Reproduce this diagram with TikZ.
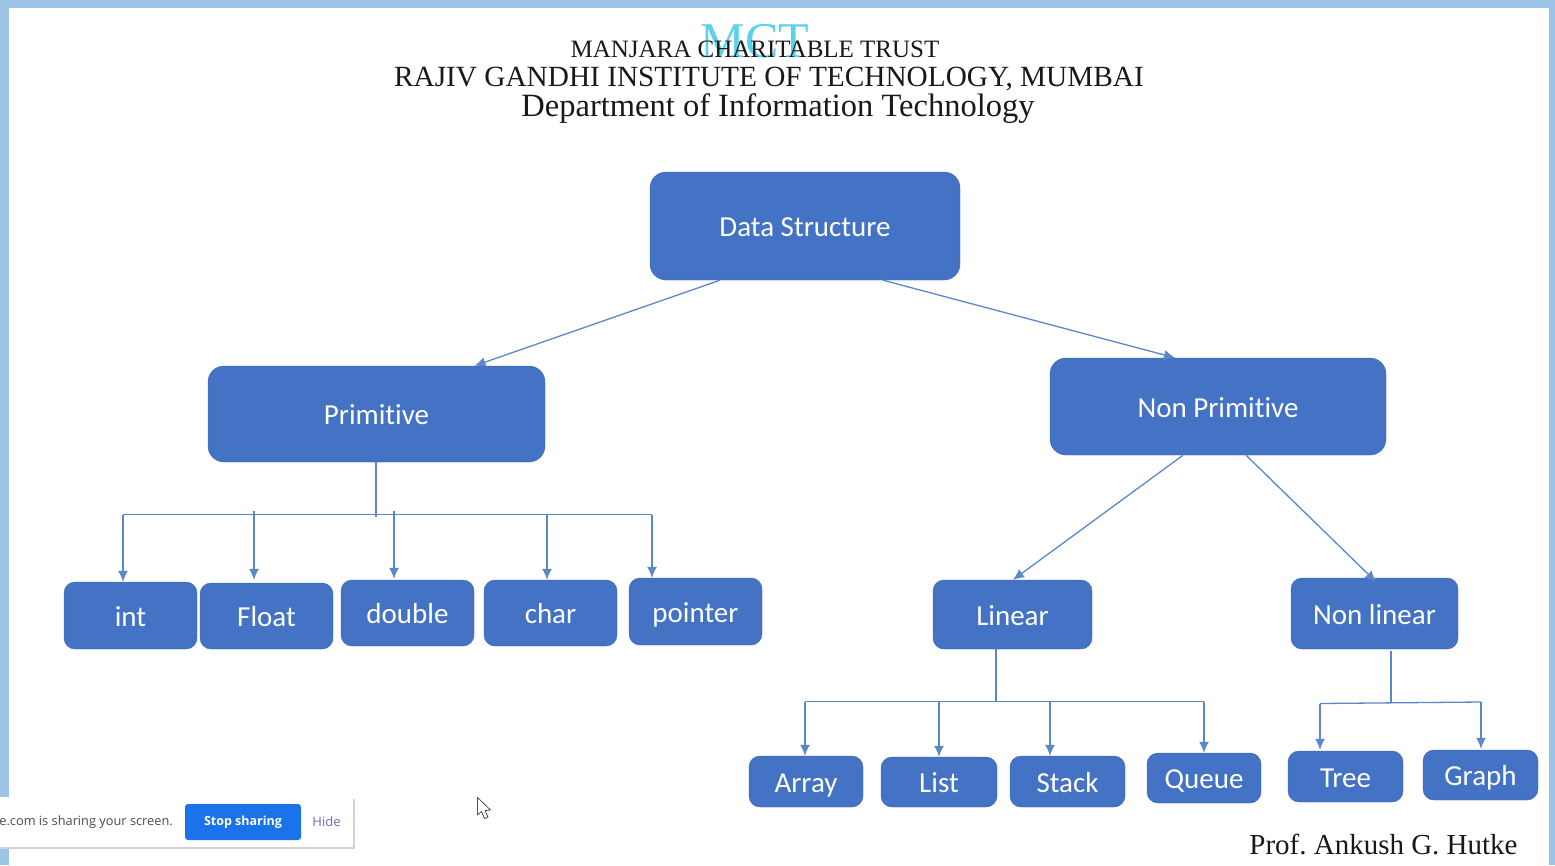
\documentclass[tikz,border=0pt]{standalone}
\usepackage{fontspec}
\setmainfont{Liberation Serif}
\newfontfamily\boxfont[Ligatures=NoCommon]{Carlito}
\newfontfamily\uifont{Open Sans}
\usetikzlibrary{arrows.meta}
\frenchspacing
\definecolor{framecol}{HTML}{9DC3E6}
\definecolor{boxcol}{HTML}{4472C4}
\definecolor{edgecol}{HTML}{3A65B0}
\definecolor{linecol}{HTML}{5B88C8}
\definecolor{logocol}{HTML}{5AD2EC}
\definecolor{btncol}{HTML}{1A73E8}
\tikzstyle{bigbox} = [rectangle, rounded corners=16pt, draw=edgecol, fill=boxcol, text=white, text height=25pt, text depth=4pt, font=\boxfont\fontsize{29}{32}\selectfont]
\tikzstyle{smallbox} = [rectangle, rounded corners=11pt, draw=edgecol, fill=boxcol, text=white, text height=25pt, text depth=4pt, font=\boxfont\fontsize{29}{32}\selectfont]
\tikzstyle{arrow} = [line width=1.3pt, draw=linecol, -{Latex[length=11pt,width=10pt]}]
\tikzstyle{trunk} = [line width=1.3pt, draw=linecol]
\tikzstyle{title} = [inner sep=0pt, text=black!90]
\begin{document}
\begin{tikzpicture}[x=1pt, y=-1pt]
        \useasboundingbox (0,0) rectangle (1555,865);
        % screen frame
        \fill[framecol] (0,0) rectangle (1555,865);
        \fill[white] (9,8) rectangle (1549,865);

        % header
        \node (logo) [title, text=logocol, font=\fontsize{50}{54}\selectfont] at (755,41) {MCT};
        \node (trust) [title, font=\fontsize{25}{28}\selectfont] at (755,49) {MANJARA CHARITABLE TRUST};
        \node (inst) [title, font=\fontsize{29.3}{32}\selectfont] at (769,79) {RAJIV GANDHI INSTITUTE OF TECHNOLOGY, MUMBAI};
        \node (dept) [title, font=\fontsize{32.5}{36}\selectfont] at (778,109) {Department of Information Technology};
        \node (prof) [title, font=\fontsize{29}{32}\selectfont] at (1383.5,844) {Prof. Ankush G. Hutke};

        % boxes
        \node (ds) [bigbox, minimum width=310pt, minimum height=108pt] at (805,226) {Data Structure};
        \node (prim) [bigbox, minimum width=337pt, minimum height=96pt] at (376.5,414) {Primitive};
        \node (nonprim) [bigbox, minimum width=336pt, minimum height=97pt] at (1218,406.5) {Non Primitive};

        \node (int) [smallbox, minimum width=133pt, minimum height=67pt] at (130.5,615.5) {int};
        \node (float) [smallbox, minimum width=133pt, minimum height=66pt] at (266.5,616) {Float};
        \node (double) [smallbox, minimum width=133pt, minimum height=66pt] at (407.5,613) {double};
        \node (char) [smallbox, minimum width=133pt, minimum height=66pt] at (550.5,613) {char};
        \node (pointer) [smallbox, minimum width=133pt, minimum height=67pt] at (695.5,611.5) {pointer};

        \node (linear) [smallbox, minimum width=159pt, minimum height=69pt] at (1012.5,614.5) {Linear};
        \node (nonlinear) [smallbox, minimum width=167pt, minimum height=71pt] at (1374.5,613.5) {Non linear};

        \node (array) [smallbox, minimum width=114pt, minimum height=51pt] at (806,781.5) {Array};
        \node (list) [smallbox, minimum width=116pt, minimum height=50pt] at (939,782) {List};
        \node (stack) [smallbox, minimum width=115pt, minimum height=51pt] at (1067.5,781.5) {Stack};
        \node (queue) [smallbox, minimum width=114pt, minimum height=50pt] at (1204,778) {Queue};
        \node (tree) [smallbox, minimum width=115pt, minimum height=51pt] at (1345.5,776.5) {Tree};
        \node (graph) [smallbox, minimum width=115pt, minimum height=50pt] at (1480.5,775) {Graph};

        % where the branches leave the bars
        \coordinate (primbar) at (376,514.5);
        \coordinate (intbar) at (123,514.5);
        \coordinate (floatbar) at (254,511);
        \coordinate (doublebar) at (394,511);
        \coordinate (charbar) at (547,514.5);
        \coordinate (pointerbar) at (652,514.5);
        \coordinate (linearbar) at (996,701.5);
        \coordinate (arraybar) at (805,701.5);
        \coordinate (listbar) at (939,701.5);
        \coordinate (stackbar) at (1050,701.5);
        \coordinate (queuebar) at (1204,701.5);
        \coordinate (nonlinearbar) at (1391,703);
        \coordinate (treebar) at (1320,703.5);
        \coordinate (graphbar) at (1481,702);

        \draw[arrow] ([xshift=-85pt]ds.south) -- ([xshift=98pt]prim.north);
        \draw[arrow] ([xshift=78pt]ds.south) -- ([xshift=-43pt]nonprim.north);
        \draw[arrow] ([xshift=-35pt]nonprim.south) -- ([xshift=0.5pt]linear.north);
        \draw[arrow] ([xshift=28pt]nonprim.south) -- ([xshift=1.5pt,yshift=-4pt]nonlinear.north);

        \draw[trunk] (prim.south -| primbar) -- ([yshift=-2pt]primbar);
        \draw[trunk] (intbar) -- (pointerbar);
        \draw[arrow] (intbar) -- (intbar |- int.north);
        \draw[arrow] (floatbar) -- ([yshift=3pt]floatbar |- float.north);
        \draw[arrow] (doublebar) -- ([yshift=1pt]doublebar |- double.north);
        \draw[arrow] (charbar) -- (charbar |- char.north);
        \draw[arrow] (pointerbar) -- (pointerbar |- pointer.north);

        \draw[trunk] (linear.south -| linearbar) -- (linearbar);
        \draw[trunk] (arraybar) -- (queuebar);
        \draw[arrow] (arraybar) -- (arraybar |- array.north);
        \draw[arrow] (listbar) -- (listbar |- list.north);
        \draw[arrow] (stackbar) -- (stackbar |- stack.north);
        \draw[arrow] (queuebar) -- (queuebar |- queue.north);

        \draw[trunk] ([yshift=-2pt]nonlinear.south -| nonlinearbar) -- (nonlinearbar);
        \draw[trunk] (treebar) -- (graphbar);
        \draw[arrow] (treebar) -- ([yshift=1pt]treebar |- tree.north);
        \draw[arrow] (graphbar) -- ([yshift=1pt]graphbar |- graph.north);

        % sharing banner
        \fill[black!18] (0,799) rectangle (354.5,848.5);
        \node (banner) [rectangle, fill=white, minimum width=363pt, minimum height=50pt, inner sep=0pt] at (171.5,822) {};
        \node (stopbtn) [rectangle, rounded corners=3pt, fill=btncol, text=white, minimum width=116pt, minimum height=36pt, inner sep=0pt, font=\uifont\fontsize{12.5}{14}\selectfont\bfseries] at (243,822) {Stop sharing};
        \node (hide) [inner sep=0pt, text=blue!45!gray!80, font=\uifont\fontsize{13}{15}\selectfont] at (326.5,822) {Hide};
        \node (sharing) [anchor=east, inner sep=0pt, text=black!70, font=\uifont\fontsize{12.8}{15}\selectfont] at (173,822) {e.com is sharing your screen.};

        % pointer
        \draw[black!70, fill=white, line width=0.8pt, line join=round] (477.5,797.5) -- (477.5,815) -- (481.5,811.5) -- (484.5,818.5) -- (488,817) -- (485,810.5) -- (490.5,810) -- cycle;
\end{tikzpicture}
\end{document}
